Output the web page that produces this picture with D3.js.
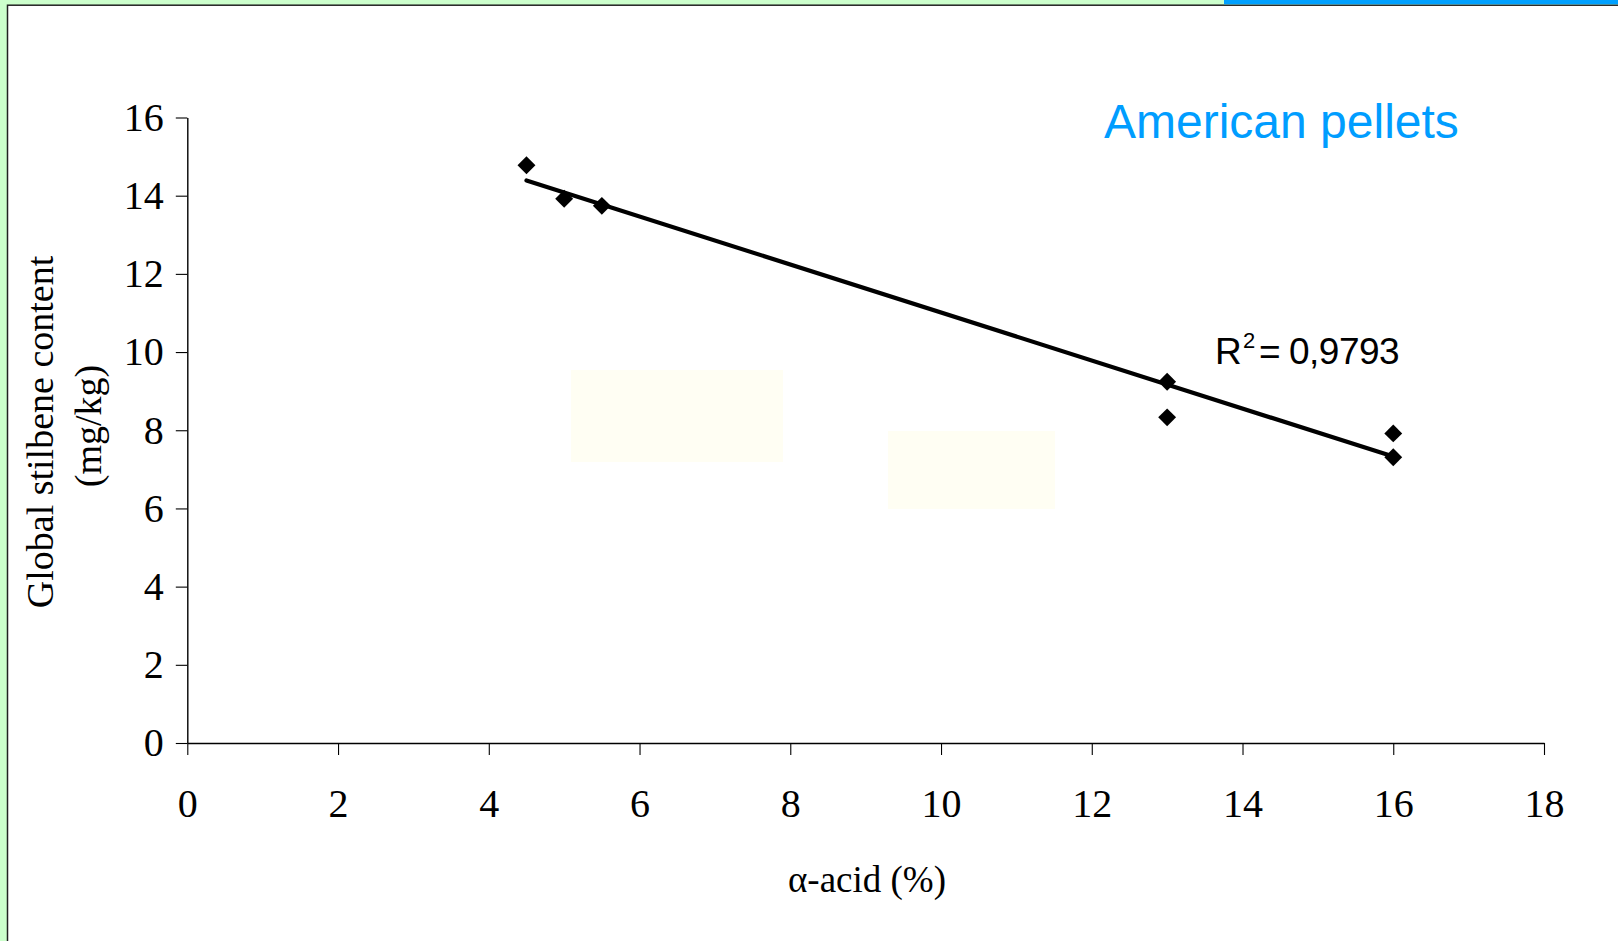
<!DOCTYPE html>
<html>
<head>
<meta charset="utf-8">
<script src="https://cdn.jsdelivr.net/npm/d3@7"></script>
<style>
  html, body { margin: 0; padding: 0; background: #ccffcc; }
  svg { display: block; }
</style>
</head>
<body>
<svg id="chart" width="1618" height="941"></svg>
<script>
// ---- data ----
const alphaAcid = [4.5, 5, 5.5, 13, 13, 16, 16];          // x (%)
const stilbene  = [14.78, 13.92, 13.74, 9.24, 8.33, 7.92, 7.31]; // y (mg/kg)
const xTicks = [0, 2, 4, 6, 8, 10, 12, 14, 16, 18];
const yTicks = [0, 2, 4, 6, 8, 10, 12, 14, 16];
const titleText = "American pellets";
const r2Value = "0,9793";
const xLabel = "\u03b1-acid (%)";
const yLabelLines = ["Global stilbene content", "(mg/kg)"];

const W = 1618, H = 941;
const svg = d3.select("#chart");

// frame / background
svg.append("rect").attr("x", 0).attr("y", 0).attr("width", W).attr("height", H).attr("fill", "#ccffcc");
svg.append("rect").attr("x", 7.5).attr("y", 5.2).attr("width", W + 20).attr("height", H + 20)
  .attr("fill", "#ffffff").attr("stroke", "#222").attr("stroke-width", 1.5);
svg.append("rect").attr("x", 1224).attr("y", 0).attr("width", W - 1224).attr("height", 4.3).attr("fill", "#00a0ff");

// faint artifacts
svg.append("rect").attr("x", 571).attr("y", 370).attr("width", 212).attr("height", 92).attr("fill", "#fffef3");
svg.append("rect").attr("x", 888).attr("y", 431).attr("width", 167).attr("height", 78).attr("fill", "#fffef3");

const x = d3.scaleLinear().domain([0, 18]).range([187.3, 1544]);
const y = d3.scaleLinear().domain([0, 16]).range([743, 117.5]);

const serif = "'Liberation Serif','Times New Roman',Times,serif";
const sans = "'Liberation Sans',Arial,Helvetica,sans-serif";

// axes
const gx = svg.append("g").attr("transform", `translate(0,${y(0)})`)
  .call(d3.axisBottom(x).tickValues(xTicks).tickSize(12).tickPadding(34).tickSizeOuter(0).tickFormat(d3.format("d")));
const gy = svg.append("g").attr("transform", `translate(${x(0)},0)`)
  .call(d3.axisLeft(y).tickValues(yTicks).tickSize(11.5).tickPadding(12).tickSizeOuter(0).tickFormat(d3.format("d")));

[gx, gy].forEach(g => {
  g.select(".domain").attr("stroke", "#000").attr("stroke-width", 1.4);
  g.selectAll(".tick line").attr("stroke", "#000").attr("stroke-width", 1.1);
  g.selectAll(".tick text").attr("fill", "#000").style("font-family", serif).style("font-size", "40px");
});

// regression line (least squares from the data)
const n = alphaAcid.length;
const mx = d3.mean(alphaAcid), my = d3.mean(stilbene);
let sxy = 0, sxx = 0;
for (let i = 0; i < n; i++) { sxy += (alphaAcid[i] - mx) * (stilbene[i] - my); sxx += (alphaAcid[i] - mx) ** 2; }
const slope = sxy / sxx, intercept = my - slope * mx;
const [x0, x1] = d3.extent(alphaAcid);
svg.append("line")
  .attr("x1", x(x0)).attr("y1", y(intercept + slope * x0))
  .attr("x2", x(x1)).attr("y2", y(intercept + slope * x1))
  .attr("stroke", "#000").attr("stroke-width", 4.2).attr("stroke-linecap", "round");

// points (diamonds)
const pts = alphaAcid.map((v, i) => ({ x: v, y: stilbene[i] }));
const diamond = d3.symbol().type(d3.symbolSquare).size(160);
svg.append("g").selectAll("path").data(pts).join("path")
  .attr("d", diamond)
  .attr("transform", d => `translate(${x(d.x)},${y(d.y)}) rotate(45)`)
  .attr("fill", "#000");

// title
svg.append("text").attr("x", 1104).attr("y", 138)
  .style("font-family", sans).style("font-size", "48px").attr("fill", "#009dff")
  .text(titleText);

// R^2 annotation
const r2 = svg.append("text").attr("y", 364).style("font-family", sans).style("font-size", "37px").attr("fill", "#000");
r2.append("tspan").attr("x", 1215).text("R");
r2.append("tspan").attr("x", 1243).attr("y", 348).style("font-size", "22px").text("2");
r2.append("tspan").attr("x", 1259).attr("y", 364).text("=");
r2.append("tspan").attr("x", 1289).style("letter-spacing", "-0.5px").text(r2Value);

// axis titles
svg.append("text").attr("x", 867).attr("y", 892).attr("text-anchor", "middle")
  .style("font-family", serif).style("font-size", "37px").attr("fill", "#000").text(xLabel);

const yl = svg.append("text").attr("transform", "rotate(-90)").attr("text-anchor", "middle")
  .style("font-family", serif).style("font-size", "38px").attr("fill", "#000");
yl.append("tspan").attr("x", -432).attr("y", 53).text(yLabelLines[0]);
yl.append("tspan").attr("x", -426).attr("y", 101).text(yLabelLines[1]);
</script>
</body>
</html>
